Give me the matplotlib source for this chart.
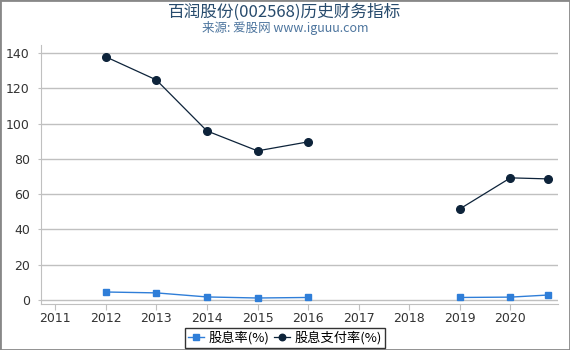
import matplotlib
matplotlib.use("Agg")
import matplotlib.pyplot as plt
import numpy as np

plt.rcParams['font.family'] = ['Noto Sans CJK SC', 'DejaVu Sans']

years = [2012, 2013, 2014, 2015, 2016, 2017, 2018, 2019, 2020, 2020.75]
dividend_yield = [4.5, 4.0, 1.7, 1.1, 1.4, np.nan, np.nan, 1.4, 1.6, 2.8]
payout_ratio = [137.8, 124.7, 95.8, 84.5, 89.6, np.nan, np.nan, 51.6, 69.2, 68.6]
xticks = [2011, 2012, 2013, 2014, 2015, 2016, 2017, 2018, 2019, 2020]
yticks = [0, 20, 40, 60, 80, 100, 120, 140]

fig = plt.figure(figsize=(5.7, 3.5), dpi=100)
ax = fig.add_axes([41/570, 1-304/350, (558-41)/570, (304-45)/350])

ax.plot(years, dividend_yield, color='#2f7ed8', marker='s', markersize=5, lw=1, label='股息率(%)')
ax.plot(years, payout_ratio, color='#0d233a', marker='o', markersize=5.5, lw=0.9, label='股息支付率(%)')

ax.set_xlim(2010.72, 2020.94)
ax.set_ylim(-2.3, 144.5)
ax.set_xticks(xticks)
ax.set_xticklabels([str(x) for x in xticks], family='DejaVu Sans')
ax.set_yticks(yticks)
ax.set_yticklabels([str(y) for y in yticks], family='DejaVu Sans')
ax.grid(axis='y', color='#c0c0c0', lw=1)
ax.set_axisbelow(True)
for s in ['top', 'right']:
    ax.spines[s].set_visible(False)
ax.spines['left'].set_color('#c0c0c0')
ax.spines['bottom'].set_color('#c0c0c0')
ax.tick_params(axis='y', length=2, color='#c0c0c0', labelsize=9, labelcolor='#333333', pad=6)
ax.tick_params(axis='x', length=4, color='#c0c0c0', labelsize=9, labelcolor='#333333', pad=2)

fig.text(0.5, 1-12/350, '百润股份(002568)历史财务指标', ha='center', va='center', fontsize=12, color='#274b6d')
fig.text(0.5, 1-28/350, '来源: 爱股网 www.iguuu.com', ha='center', va='center', fontsize=9, color='#4d759e')

leg = fig.legend(loc='center', bbox_to_anchor=(285/570, 1-338/350), ncol=2, fontsize=9.5,
                 frameon=True, fancybox=False, edgecolor='black', handlelength=1.2,
                 handletextpad=0.3, columnspacing=0.4, borderpad=0.25, markerscale=0.85,
                 borderaxespad=0)
leg.get_frame().set_linewidth(1)

border = plt.Rectangle((0, 0), 1, 1, transform=fig.transFigure, fill=False, edgecolor='#888888', lw=2)
fig.patches.append(border)

fig.savefig('out.png', dpi=100)
